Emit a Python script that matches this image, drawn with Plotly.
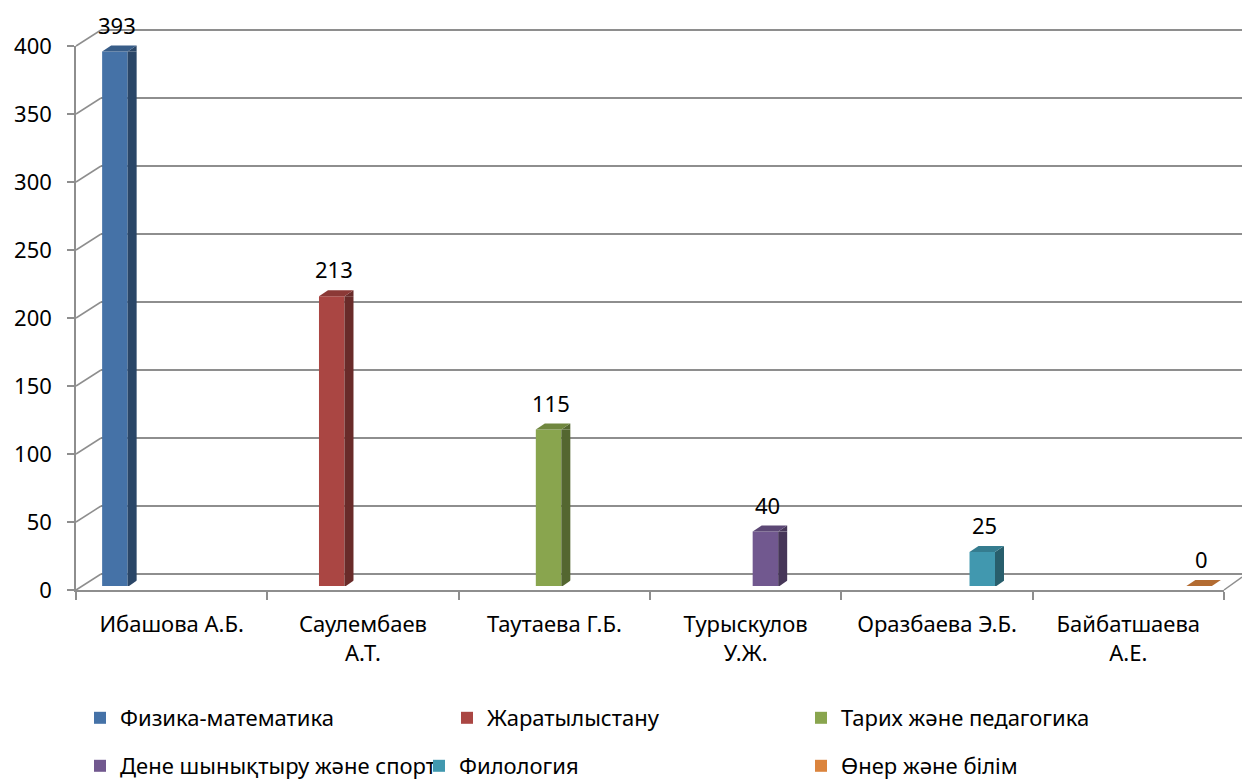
import plotly.graph_objects as go

# ---------------- data ----------------
category_labels = ["Ибашова А.Б.", "Саулембаев<br>А.Т.", "Таутаева Г.Б.",
                   "Турыскулов<br>У.Ж.", "Оразбаева Э.Б.", "Байбатшаева<br>А.Е."]
series_names = ["Физика-математика", "Жаратылыстану", "Тарих және педагогика",
                "Дене шынықтыру және спорт", "Филология", "Өнер және білім"]
series_values = [393, 213, 115, 40, 25, 0]
series_colors = ["#4572A7", "#AA4643", "#89A54E", "#71588F", "#4198AF", "#DB843D"]
y_ticks = [0, 50, 100, 150, 200, 250, 300, 350, 400]

# ---------------- layout constants (pixels) ----------------
W, H = 1242, 780
FONT = "Noto Sans"
FS = 22
GRID = "#8e8e8e"
DX, DY = 9, 6              # 3-D depth of the bars
BACK_DX, BACK_DY = 25, 16  # depth of the back wall

def px(x):
    return x / W

def py(y):
    return 1 - y / H

def shade(hex_color, f):
    h = hex_color.lstrip("#")
    r, g, b = (int(h[i:i + 2], 16) for i in (0, 2, 4))
    return "rgb(%d,%d,%d)" % (r * f, g * f, b * f)

# front axis geometry
FX0, FX1 = 76, 1224
FY0, FY400 = 590, 46
# bars geometry
BX0, BX1 = FX0 + 7, FX1 + 7
BY0, BY400 = FY0 - 4, FY400 - 4
# back wall geometry
GX0 = FX0 + BACK_DX
GY0, GY400 = FY0 - BACK_DY, FY400 - BACK_DY
unit = (GY0 - GY400) / 400.0
pad = 2

n = len(category_labels)
bargap = 0.2
bwu = (1 - bargap) / n
cat_px = (BX1 - BX0) / n
bar_w = bwu * cat_px

fig = go.Figure()

# empty helper traces so the back-wall and front-axis subplots are drawn
fig.add_trace(go.Scatter(x=[], y=[], xaxis="x", yaxis="y", showlegend=False,
                         hoverinfo="skip"))
fig.add_trace(go.Scatter(x=[], y=[], xaxis="x2", yaxis="y2", showlegend=False,
                         hoverinfo="skip"))

for i, (name, val, col) in enumerate(zip(series_names, series_values, series_colors)):
    fig.add_trace(go.Bar(
        x=[category_labels[i]], y=[val], name=name,
        marker=dict(color=col, line=dict(width=0)),
        xaxis="x3", yaxis="y3",
        offsetgroup=str(i), alignmentgroup="bars",
        legend="legend" if i == 0 else "legend%d" % (i + 1),
        hoverinfo="skip",
    ))

shapes = []
annotations = []
for i, (val, col) in enumerate(zip(series_values, series_colors)):
    left = i - 0.4 + i * bwu
    right = left + bwu
    center = (left + right) / 2
    side = shade(col, 0.62)
    top = shade(col, 0.82)
    if val > 0:
        shapes.append(dict(type="rect", xref="x3", yref="y3", xsizemode="pixel",
                           xanchor=right, x0=0, x1=DX, y0=0, y1=val,
                           fillcolor=side, line=dict(width=0), layer="above"))
        shapes.append(dict(type="path", xref="x3", yref="y3", xsizemode="pixel",
                           ysizemode="pixel", xanchor=right, yanchor=val,
                           path="M0,0 L%d,%d L%d,0 Z" % (DX, DY, DX),
                           fillcolor=side, line=dict(width=0), layer="above"))
        shapes.append(dict(type="path", xref="x3", yref="y3", xsizemode="pixel",
                           ysizemode="pixel", xanchor=right, yanchor=0,
                           path="M0,-1 L%d,-1 L%d,%d Z" % (DX + 1, DX + 1, DY),
                           fillcolor="white", line=dict(width=0), layer="above"))
    shapes.append(dict(type="path", xref="x3", yref="y3", xsizemode="pixel",
                       ysizemode="pixel", xanchor=left, yanchor=val,
                       path="M0,0 L%.2f,0 L%.2f,%d L%d,%d Z" % (bar_w, bar_w + DX, DY, DX, DY),
                       fillcolor=top, line=dict(width=0), layer="above"))
    annotations.append(dict(x=center, y=val, xref="x3", yref="y3", text=str(val),
                            showarrow=False, yshift=27, xshift=2,
                            font=dict(family=FONT, size=FS, color="#000"),
                            xanchor="center", yanchor="middle"))

# diagonal connectors from front y-axis ticks to back wall
for v in y_ticks:
    yf = FY0 - v * (FY0 - FY400) / 400.0
    yb = GY0 - v * unit
    shapes.append(dict(type="line", xref="paper", yref="paper",
                       x0=px(FX0), y0=py(yf), x1=px(GX0), y1=py(yb),
                       line=dict(color=GRID, width=1.5), layer="below"))
# floor right edge
shapes.append(dict(type="line", xref="paper", yref="paper",
                   x0=px(FX1), y0=py(FY0), x1=px(FX1 + 18), y1=py(FY0 - 13),
                   line=dict(color=GRID, width=1.5), layer="below"))

# legend item positions: (left edge of colour square, vertical centre)
legend_pos = [(99, 718), (466, 718), (820, 718), (99, 766), (438, 766), (820, 766)]
legends = {}
for i, (lx, ly) in enumerate(legend_pos):
    key = "legend" if i == 0 else "legend%d" % (i + 1)
    legends[key] = dict(x=px(lx - 19), y=py(ly), xanchor="left", yanchor="middle",
                        bgcolor="rgba(0,0,0,0)", borderwidth=0,
                        font=dict(family=FONT, size=FS, color="#000"),
                        itemclick=False, itemdoubleclick=False)

fig.update_layout(
    width=W, height=H,
    margin=dict(l=0, r=0, t=0, b=0, autoexpand=False),
    paper_bgcolor="white", plot_bgcolor="rgba(0,0,0,0)",
    barmode="group", bargap=bargap, bargroupgap=0,
    showlegend=True,
    font=dict(family=FONT, size=FS, color="#000"),
    # back wall grid
    xaxis=dict(domain=[px(GX0), 1.0], range=[0, 1], anchor="y",
               showgrid=False, zeroline=False, showline=False,
               showticklabels=False, ticks=""),
    yaxis=dict(domain=[py(GY0 + pad * unit), py(GY400 - pad * unit)],
               range=[-pad, 400 + pad], anchor="x", showgrid=True, gridcolor=GRID,
               gridwidth=1.5, tickvals=y_ticks, showticklabels=False, ticks="",
               zeroline=False, showline=False),
    # front axes
    xaxis2=dict(domain=[px(FX0), px(FX1)], anchor="y2", type="category",
                categoryorder="array", categoryarray=category_labels,
                range=[-0.5, n - 0.5], showgrid=False, zeroline=False,
                showline=True, linecolor=GRID, linewidth=1.5,
                ticks="outside", ticklen=8, tickcolor=GRID, tickwidth=1.5,
                tickson="boundaries", tickfont=dict(family=FONT, size=FS, color="#000"),
                ticklabelstandoff=14),
    yaxis2=dict(domain=[py(FY0), py(FY400)], anchor="x2", range=[0, 400],
                tickvals=y_ticks, showgrid=False, zeroline=False,
                showline=True, linecolor=GRID, linewidth=1.5,
                ticks="outside", ticklen=7, tickcolor=GRID, tickwidth=1.5,
                tickfont=dict(family=FONT, size=FS, color="#000"),
                ticklabelstandoff=11),
    # bars
    xaxis3=dict(domain=[px(BX0), px(BX1)], anchor="y3", type="category",
                categoryorder="array", categoryarray=category_labels,
                range=[-0.5, n - 0.5], visible=False),
    yaxis3=dict(domain=[py(BY0), py(BY400)], anchor="x3", range=[0, 400],
                visible=False),
    shapes=shapes,
    annotations=annotations,
    **legends,
)

fig.write_html("out.html",
               config={"displayModeBar": False},
               post_script="document.body.style.margin='0';"
                           "document.body.style.overflow='hidden';")
